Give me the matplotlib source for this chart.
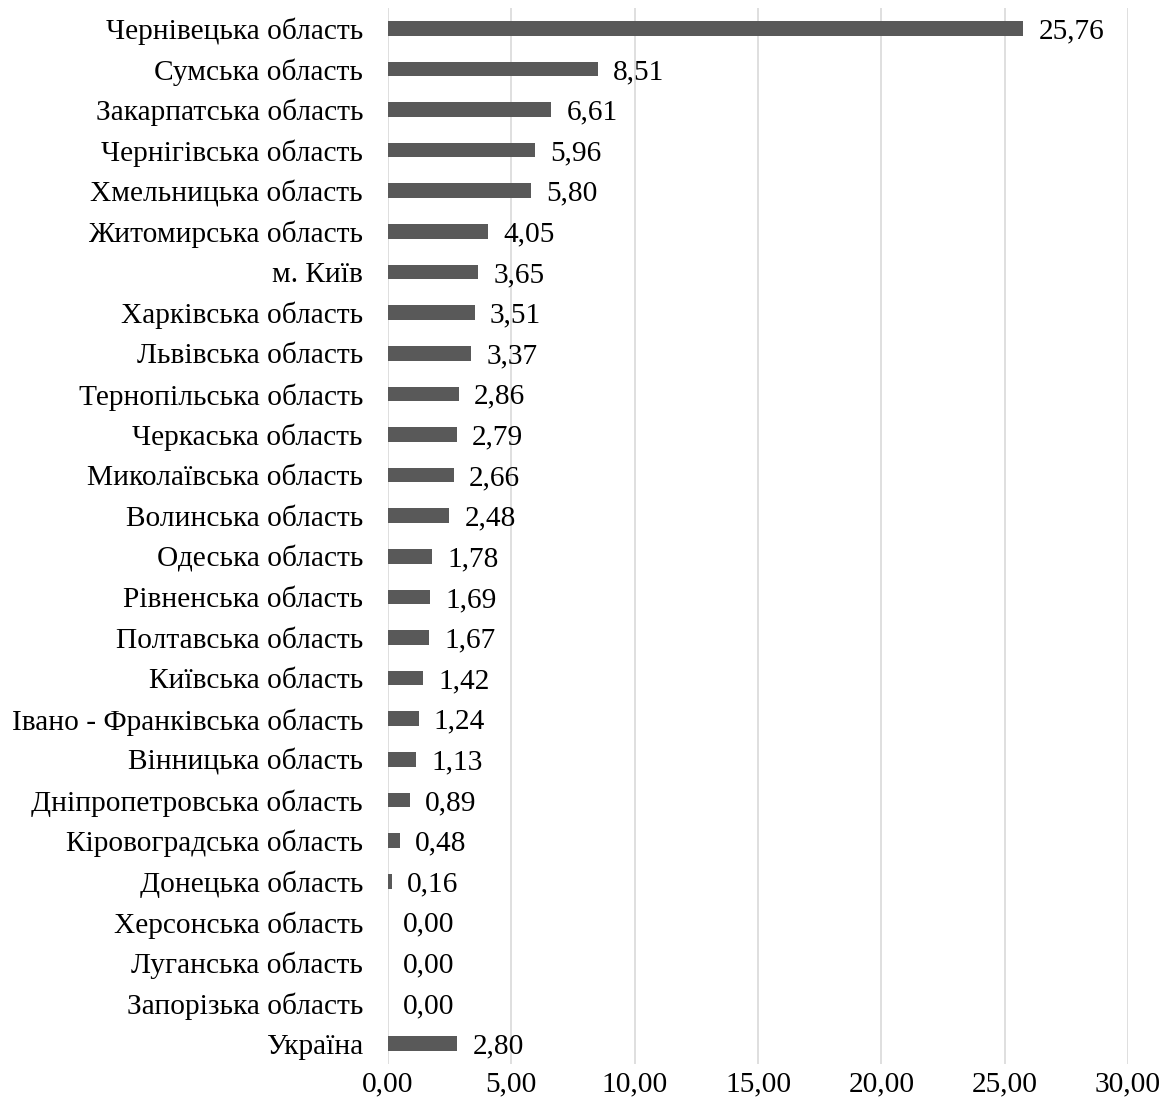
import matplotlib
matplotlib.use("Agg")
import matplotlib.pyplot as plt

regions = [
    "Чернівецька область", "Сумська область", "Закарпатська область",
    "Чернігівська область", "Хмельницька область", "Житомирська область",
    "м. Київ", "Харківська область", "Львівська область",
    "Тернопільська область", "Черкаська область", "Миколаївська область",
    "Волинська область", "Одеська область", "Рівненська область",
    "Полтавська область", "Київська область", "Івано - Франківська область",
    "Вінницька область", "Дніпропетровська область", "Кіровоградська область",
    "Донецька область", "Херсонська область", "Луганська область",
    "Запорізька область", "Україна",
]
values = [
    25.76, 8.51, 6.61, 5.96, 5.80, 4.05, 3.65, 3.51, 3.37, 2.86, 2.79, 2.66,
    2.48, 1.78, 1.69, 1.67, 1.42, 1.24, 1.13, 0.89, 0.48, 0.16, 0.00, 0.00,
    0.00, 2.80,
]
xticks = [0, 5, 10, 15, 20, 25, 30]

plt.rcParams["font.family"] = ["Liberation Serif", "DejaVu Serif"]
FS = 21.2

fig = plt.figure(figsize=(11.71, 11.13), dpi=100)
ax = fig.add_axes([388 / 1171, 1 - 1064 / 1113, 740 / 1171, 1056 / 1113])

y = list(range(len(regions)))
ax.barh(y, values, height=0.36, color="#595959", zorder=3)

for yi, v in zip(y, values):
    ax.annotate(f"{v:.2f}".replace(".", ","), xy=(v, yi), xytext=(11, 0),
                textcoords="offset points", va="center_baseline", ha="left",
                fontsize=FS, color="black")

ax.set_xlim(0, 30)
ax.set_ylim(len(regions) - 0.5, -0.5)
ax.set_yticks(y)
ax.set_yticklabels(regions, fontsize=FS, va="center_baseline")
ax.set_xticks(xticks)
ax.set_xticklabels([f"{t:.2f}".replace(".", ",") for t in xticks], fontsize=FS)
ax.tick_params(axis="both", length=0)
ax.tick_params(axis="y", pad=18)
ax.tick_params(axis="x", pad=5)

ax.grid(axis="x", color="#d9d9d9", linewidth=1.2, zorder=0)
for s in ax.spines.values():
    s.set_visible(False)

fig.savefig("out.png", dpi=100)
